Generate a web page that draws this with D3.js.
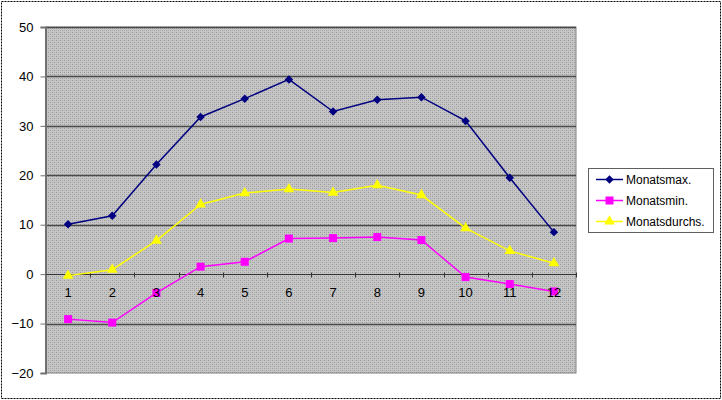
<!DOCTYPE html>
<html>
<head>
<meta charset="utf-8">
<script src="https://cdn.jsdelivr.net/npm/d3@7/dist/d3.min.js"></script>
<style>
html,body{margin:0;padding:0;background:#fff;}
svg{display:block;font-family:"Liberation Sans",Arial,sans-serif;}
</style>
</head>
<body>
<svg id="chart" width="722" height="400"></svg>
<script>
const months = ["1","2","3","4","5","6","7","8","9","10","11","12"];
const monatsmax = [10.1, 11.8, 22.2, 31.8, 35.5, 39.4, 32.9, 35.3, 35.8, 31.0, 19.5, 8.5];
const monatsmin = [-9.1, -9.8, -3.8, 1.5, 2.5, 7.2, 7.3, 7.5, 6.9, -0.6, -2.0, -3.5];
const monatsdurchs = [-0.3, 0.9, 6.8, 14.1, 16.4, 17.2, 16.5, 18.0, 16.0, 9.3, 4.7, 2.2];
const yTicks = [-20, -10, 0, 10, 20, 30, 40, 50];
const seriesNames = ["Monatsmax.", "Monatsmin.", "Monatsdurchs."];

const series = [
  {name: seriesNames[0], values: monatsmax, color: "#000080", symbol: d3.symbolSquare, size: 36, rot: 45},
  {name: seriesNames[1], values: monatsmin, color: "#ff00ff", symbol: d3.symbolSquare, size: 64, rot: 0},
  {name: seriesNames[2], values: monatsdurchs, color: "#ffff00", symbol: d3.symbolTriangle, size: 50, rot: 0}
];

const svg = d3.select("#chart");
const plot = {left: 46, right: 576, top: 27, bottom: 373};

// outer dashed border
svg.append("rect").attr("x", 1.5).attr("y", 1.5).attr("width", 719).attr("height", 397)
  .attr("fill", "#fff").attr("stroke", "#000").attr("stroke-width", 1).attr("stroke-dasharray", "2,1");

// pattern for plot area
const defs = svg.append("defs");
const pat = defs.append("pattern").attr("id", "dots").attr("width", 4).attr("height", 4)
  .attr("patternUnits", "userSpaceOnUse");
pat.append("rect").attr("width", 4).attr("height", 4).attr("fill", "#c6c6c6");
pat.append("rect").attr("x", 0).attr("y", 0).attr("width", 1).attr("height", 1).attr("fill", "#9a9a9a");
pat.append("rect").attr("x", 2).attr("y", 2).attr("width", 1).attr("height", 1).attr("fill", "#9a9a9a");
pat.append("rect").attr("x", 2).attr("y", 0).attr("width", 1).attr("height", 1).attr("fill", "#b0b0b0");
pat.append("rect").attr("x", 0).attr("y", 2).attr("width", 1).attr("height", 1).attr("fill", "#b0b0b0");

const x = d3.scalePoint().domain(months).range([plot.left, plot.right]).padding(0.5);
const y = d3.scaleLinear().domain([-20, 50]).range([plot.bottom, plot.top]);

svg.append("rect").attr("x", plot.left).attr("y", plot.top)
  .attr("width", plot.right - plot.left).attr("height", plot.bottom - plot.top)
  .attr("fill", "url(#dots)").attr("stroke", "#808080").attr("stroke-width", 1);

// gridlines
svg.append("g").selectAll("line").data(yTicks.filter(d => d !== -20 && d !== 0)).join("line")
  .attr("x1", plot.left).attr("x2", plot.right)
  .attr("y1", d => Math.round(y(d)) + 0.5).attr("y2", d => Math.round(y(d)) + 0.5)
  .attr("stroke", "#4a4a4a").attr("stroke-width", 1.3);

// y axis
const yAxis = d3.axisLeft(y).tickValues(yTicks).tickSize(5).tickPadding(7).tickFormat(d3.format("d"));
const gy = svg.append("g").attr("transform", `translate(${plot.left - 0.5},0)`).call(yAxis);
gy.select(".domain").attr("stroke", "#707070").attr("stroke-width", 2);
gy.selectAll(".tick line").attr("stroke", "#707070");
gy.selectAll(".tick text").attr("font-size", 13).attr("fill", "#000")
  .attr("font-family", "'Liberation Sans', Arial, sans-serif");

// x axis line at 0
const y0 = Math.round(y(0)) + 0.5;
svg.append("line").attr("x1", plot.left).attr("x2", plot.right).attr("y1", y0).attr("y2", y0)
  .attr("stroke", "#333").attr("stroke-width", 1);
const step = x.step();
svg.append("g").selectAll("line").data(months.slice(1).concat(["end"])).join("line")
  .attr("x1", (d, i) => Math.round(plot.left + step * (i + 1)) + 0.5)
  .attr("x2", (d, i) => Math.round(plot.left + step * (i + 1)) + 0.5)
  .attr("y1", y0 - 2).attr("y2", y0 + 3)
  .attr("stroke", "#333").attr("stroke-width", 1);

// series lines and markers
const line = d3.line().x((d, i) => x(months[i])).y(d => y(d));
series.forEach(s => {
  svg.append("path").datum(s.values).attr("d", line)
    .attr("fill", "none").attr("stroke", s.color).attr("stroke-width", 1.5);
  svg.append("g").selectAll("path").data(s.values).join("path")
    .attr("d", d3.symbol().type(s.symbol).size(s.size))
    .attr("transform", (d, i) => `translate(${x(months[i])},${y(d)}) rotate(${s.rot})`)
    .attr("fill", s.color);
});

// x labels (drawn over data)
svg.append("g").selectAll("text").data(months).join("text")
  .attr("x", d => x(d)).attr("y", y0 + 22)
  .attr("text-anchor", "middle").attr("font-size", 13).attr("fill", "#000")
  .text(d => d);

// legend
const lg = svg.append("g");
lg.append("rect").attr("x", 588.5).attr("y", 168.5).attr("width", 125).attr("height", 64)
  .attr("fill", "#fff").attr("stroke", "#606060").attr("stroke-width", 1);
series.forEach((s, i) => {
  const cy = 179.5 + i * 21;
  lg.append("line").attr("x1", 596).attr("x2", 623).attr("y1", cy).attr("y2", cy)
    .attr("stroke", s.color).attr("stroke-width", 1.5);
  lg.append("path").attr("d", d3.symbol().type(s.symbol).size(s.size))
    .attr("transform", `translate(609.5,${cy}) rotate(${s.rot})`).attr("fill", s.color);
  lg.append("text").attr("x", 626).attr("y", cy + 4.5).attr("font-size", 12)
    .attr("fill", "#000").text(s.name);
});
</script>
</body>
</html>
